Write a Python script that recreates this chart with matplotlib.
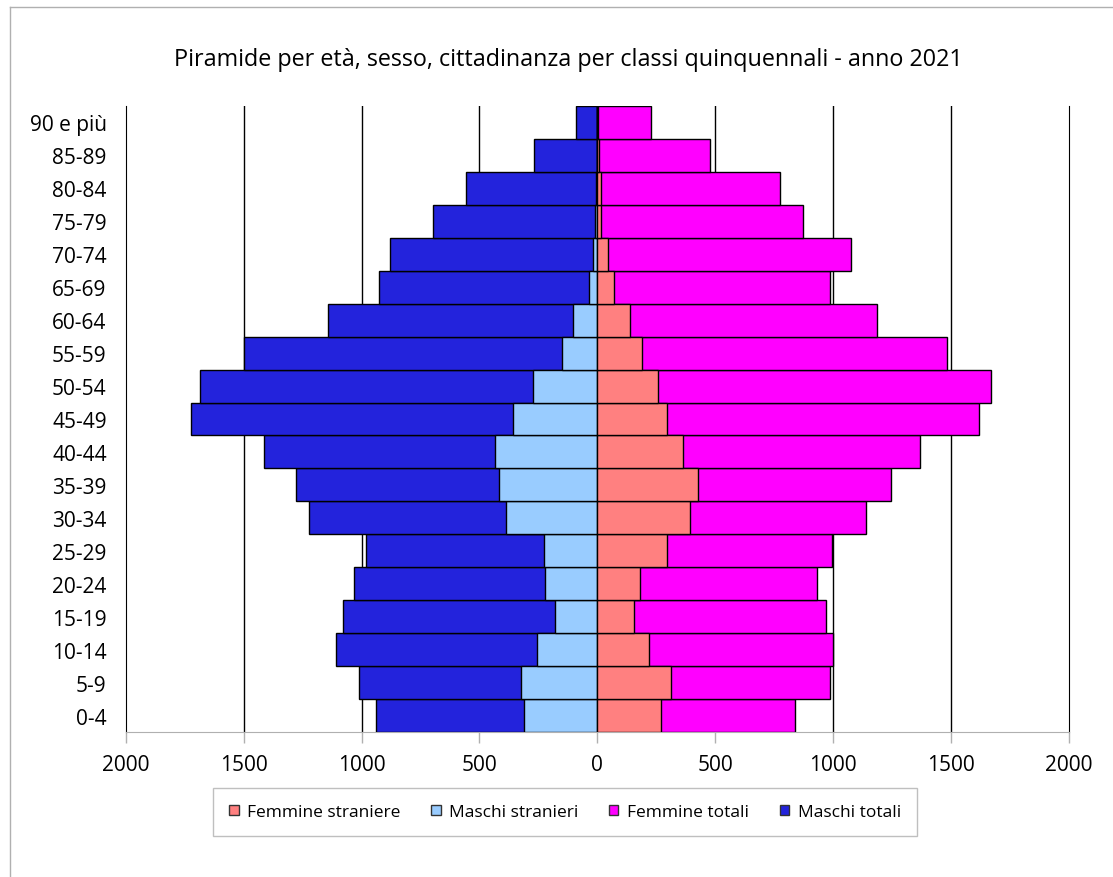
import matplotlib
matplotlib.use("Agg")
import matplotlib.pyplot as plt
from matplotlib.patches import Patch
from matplotlib.lines import Line2D

ages = ["0-4", "5-9", "10-14", "15-19", "20-24", "25-29", "30-34", "35-39",
        "40-44", "45-49", "50-54", "55-59", "60-64", "65-69", "70-74",
        "75-79", "80-84", "85-89", "90 e più"]
maschi_totali = [940, 1010, 1109, 1080, 1031, 982, 1224, 1276, 1412, 1722,
                 1687, 1500, 1143, 927, 881, 698, 555, 270, 91]
maschi_stranieri = [312, 323, 256, 180, 224, 227, 389, 418, 436, 359,
                    273, 150, 104, 36, 17, 10, 5, 2, 0]
femmine_totali = [840, 987, 999, 970, 931, 996, 1140, 1245, 1369, 1620,
                  1670, 1484, 1184, 985, 1076, 874, 775, 478, 229]
femmine_straniere = [270, 312, 219, 155, 180, 295, 393, 427, 362, 297,
                     257, 189, 137, 69, 44, 14, 17, 5, 1]
xticks = [-2000, -1500, -1000, -500, 0, 500, 1000, 1500, 2000]
xticklabels = ["2000", "1500", "1000", "500", "0", "500", "1000", "1500", "2000"]
title = "Piramide per età, sesso, cittadinanza per classi quinquennali - anno 2021"

c_ms = "#FF8080"
c_mst = "#99CCFF"
c_ft = "#FF00FF"
c_mt = "#2323DC"

plt.rcParams['font.family'] = ['Open Sans', 'DejaVu Sans']

W, H = 1113, 878
fig = plt.figure(figsize=(W / 100, H / 100), dpi=100)
ax = fig.add_axes([125.7 / W, (H - 733) / H, (1069 - 125.7) / W, (733 - 107) / H])

y = list(range(len(ages)))
ax.barh(y, [-v for v in maschi_totali], height=1.0, color=c_mt, edgecolor="black", linewidth=1, zorder=3)
ax.barh(y, [-v for v in maschi_stranieri], height=1.0, color=c_mst, edgecolor="black", linewidth=1, zorder=4)
ax.barh(y, femmine_totali, height=1.0, color=c_ft, edgecolor="black", linewidth=1, zorder=3)
ax.barh(y, femmine_straniere, height=1.0, color=c_ms, edgecolor="black", linewidth=1, zorder=4)

ax.set_xlim(-2000, 2000)
ax.set_ylim(-0.5, len(ages) - 0.5)
ax.set_xticks(xticks)
ax.set_xticklabels(xticklabels, fontsize=15)
ax.set_yticks(y)
ax.set_yticklabels(ages, fontsize=15)
ax.tick_params(axis="y", length=0, pad=13.7)
ax.tick_params(axis="x", length=8, color="#B0B0B0", width=1, pad=8, direction="out")

ax.spines["top"].set_visible(False)
ax.spines["bottom"].set_color("#B0B0B0")
ax.spines["left"].set_color("black")
ax.spines["right"].set_color("black")
for xv in xticks[1:-1]:
    ax.axvline(xv, color="black", linewidth=1, zorder=1)

fig.text(568.5 / W, 1 - 60 / H, title, ha="center", va="center", fontsize=16.8)

# outer border (top and left visible)
fig.add_artist(Line2D([9.5 / W, 1.1], [1 - 8 / H, 1 - 8 / H], transform=fig.transFigure, color="#B0B0B0", lw=1))
fig.add_artist(Line2D([9.5 / W, 9.5 / W], [1 - 8 / H, -0.1], transform=fig.transFigure, color="#B0B0B0", lw=1))

handles = [Patch(facecolor=c_ms, edgecolor="#333333", label="Femmine straniere"),
           Patch(facecolor=c_mst, edgecolor="#333333", label="Maschi stranieri"),
           Patch(facecolor=c_ft, edgecolor="#333333", label="Femmine totali"),
           Patch(facecolor=c_mt, edgecolor="#333333", label="Maschi totali")]
leg = fig.legend(handles=handles, loc="center", bbox_to_anchor=(565 / W, 1 - 813 / H),
                 ncol=4, fontsize=12.5, frameon=True, fancybox=False,
                 handlelength=0.55, handleheight=0.55, handletextpad=0.5,
                 columnspacing=1.75, borderpad=0.9, borderaxespad=0)
leg.get_frame().set_edgecolor("#B0B0B0")
leg.get_frame().set_linewidth(1)

fig.savefig("out.png", dpi=100)
